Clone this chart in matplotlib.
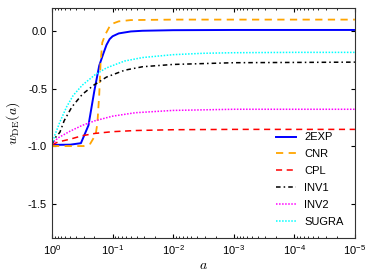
import matplotlib

matplotlib.use("Agg")
import matplotlib.pyplot as plt
import numpy as np

plt.rcParams["font.family"] = ["Liberation Sans", "DejaVu Sans"]
plt.rcParams["mathtext.fontset"] = "cm"
plt.rcParams["axes.unicode_minus"] = False

# scale factor a (log axis, today at a = 1)
a_2exp = [1.0, 0.5, 0.333, 0.25, 0.2, 0.166, 0.143, 0.126, 0.112, 0.1, 0.079, 0.05, 0.032, 0.01, 1e-3, 1e-5]
w_2exp = [-0.99, -0.988, -0.975, -0.82, -0.52, -0.30, -0.2, -0.12, -0.07, -0.045, -0.02, -0.003, 0.003, 0.008, 0.01, 0.01]

a_cnr = [1.0, 0.3, 0.234, 0.19, 0.178, 0.166, 0.158, 0.148, 0.132, 0.112, 0.1, 0.079, 0.05, 0.01, 1e-5]
w_cnr = [-1.0, -1.0, -0.98, -0.9, -0.8, -0.55, -0.28, -0.1, -0.03, 0.04, 0.065, 0.085, 0.096, 0.1, 0.1]

a_cpl = [1.0, 0.8, 0.5, 0.316, 0.195, 0.1, 0.042, 0.01, 1e-3, 1e-5]
w_cpl = [-0.99, -0.965, -0.94, -0.91, -0.89, -0.875, -0.865, -0.858, -0.855, -0.855]

a_inv1 = [1.0, 0.89, 0.74, 0.63, 0.47, 0.316, 0.204, 0.126, 0.063, 0.032, 0.01, 1e-3, 1e-5]
w_inv1 = [-0.985, -0.93, -0.88, -0.78, -0.66, -0.55, -0.47, -0.40, -0.34, -0.31, -0.29, -0.275, -0.27]

a_inv2 = [1.0, 0.8, 0.5, 0.316, 0.195, 0.1, 0.042, 0.01, 1e-3, 1e-5]
w_inv2 = [-0.985, -0.93, -0.87, -0.82, -0.78, -0.74, -0.71, -0.69, -0.68, -0.68]

a_sugra = [1.0, 0.89, 0.74, 0.575, 0.447, 0.316, 0.195, 0.126, 0.063, 0.032, 0.01, 3.2e-3, 1e-3, 1e-4, 1e-5]
w_sugra = [-0.985, -0.9, -0.79, -0.66, -0.56, -0.47, -0.38, -0.32, -0.26, -0.23, -0.205, -0.193, -0.188, -0.185, -0.185]

fig = plt.figure(figsize=(3.74, 2.80), dpi=100)
ax = fig.add_axes([0.139, 0.15, 0.81, 0.821])

ax.plot(a_2exp, w_2exp, color="#0000ff", lw=1.4, ls="-", label="2EXP")
ax.plot(a_cnr, w_cnr, color="orange", lw=1.3, ls=(0, (4, 3)), label="CNR")
ax.plot(a_cpl, w_cpl, color="red", lw=1.1, ls=(0, (4, 3)), label="CPL")
ax.plot(a_inv1, w_inv1, color="black", lw=1.1, ls=(0, (3, 2, 1, 2)), label="INV1")
ax.plot(a_inv2, w_inv2, color="magenta", lw=1.1, ls=(0, (1, 1)), label="INV2")
ax.plot(a_sugra, w_sugra, color="cyan", lw=1.1, ls=(0, (1, 1)), label="SUGRA")

ax.set_xscale("log")
ax.set_xlim(1, 1e-5)
ax.set_ylim(-1.8, 0.2)
ax.set_yticks([0.0, -0.5, -1.0, -1.5])
ax.set_yticklabels(["0.0", "-0.5", "-1.0", "-1.5"])
ax.tick_params(which="both", direction="in", top=True, right=True, labelsize=8)
ax.tick_params(which="major", length=3)
ax.tick_params(which="minor", length=1.5)
for s in ax.spines.values():
    s.set_color("#333333")

ax.set_xlabel("$a$", fontsize=10, labelpad=1)
ax.set_ylabel(r"$w_{\rm DE}(a)$", fontsize=10)

ax.legend(loc="lower right", frameon=False, fontsize=8, handlelength=1.8,
          labelspacing=0.62, borderaxespad=0.6)

fig.savefig("out.png", dpi=100)
